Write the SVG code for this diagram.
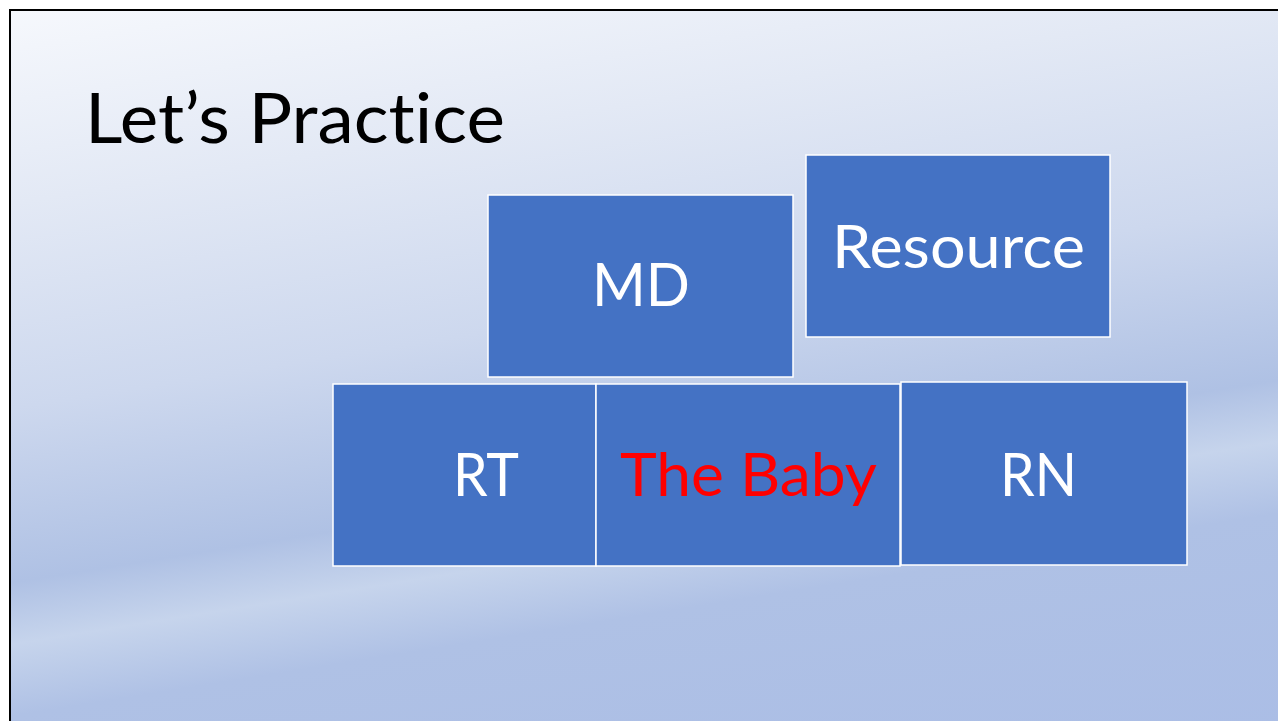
<svg xmlns="http://www.w3.org/2000/svg" width="1278" height="721" viewBox="0 0 1278 721">
<defs>
<linearGradient id="bg" gradientUnits="userSpaceOnUse" x1="0" y1="0" x2="160" y2="1000">
<stop offset="0" stop-color="#f7f9fd"/>
<stop offset="0.2" stop-color="#e3e9f5"/>
<stop offset="0.4" stop-color="#cdd8ee"/>
<stop offset="0.57" stop-color="#afc1e4"/>
<stop offset="0.63" stop-color="#c6d4ec"/>
<stop offset="0.7" stop-color="#afc1e5"/>
<stop offset="1" stop-color="#a9bce6"/>
</linearGradient>
<style>
.box{fill:#4472c4;stroke:#ffffff;stroke-width:1.5}
.lbl{font-family:Lato,"Open Sans","Liberation Sans",sans-serif;font-size:60px;fill:#ffffff;font-variant-ligatures:none}
.title{font-family:Lato,"Open Sans","Liberation Sans",sans-serif;font-size:70px;fill:#000000;font-variant-ligatures:none}
</style>
</defs>
<rect x="0" y="0" width="1278" height="721" fill="#ffffff"/>
<rect x="10" y="10" width="1300" height="760" fill="url(#bg)" stroke="#000000" stroke-width="2"/>
<text class="title" x="85" y="143" textLength="420" lengthAdjust="spacingAndGlyphs">Let’s Practice</text>
<g id="connectors"></g>
<g id="md">
<rect class="box" x="488" y="195" width="305" height="182"/>
<text class="lbl" x="592" y="306" textLength="98" lengthAdjust="spacingAndGlyphs">MD</text>
</g>
<g id="resource">
<rect class="box" x="806" y="155" width="304" height="182"/>
<text class="lbl" x="832" y="268" textLength="253" lengthAdjust="spacingAndGlyphs">Resource</text>
</g>
<g id="rt">
<rect class="box" x="333" y="384" width="263" height="182"/>
<text class="lbl" x="453" y="496" textLength="66" lengthAdjust="spacingAndGlyphs">RT</text>
</g>
<g id="baby">
<rect class="box" x="596" y="384" width="304" height="182"/>
<text class="lbl" x="620" y="496" textLength="257" lengthAdjust="spacingAndGlyphs" style="fill:#ff0000">The Baby</text>
</g>
<g id="rn">
<rect class="box" x="901" y="382" width="286" height="183"/>
<text class="lbl" x="1000" y="496" textLength="77" lengthAdjust="spacingAndGlyphs">RN</text>
</g>
</svg>
